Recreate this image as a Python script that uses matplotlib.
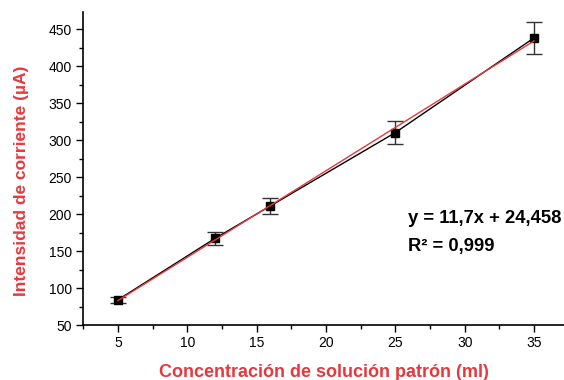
import matplotlib
matplotlib.use("Agg")
import matplotlib.pyplot as plt
import numpy as np
from matplotlib.ticker import MultipleLocator

plt.rcParams['font.family'] = ['Liberation Sans', 'DejaVu Sans']

# Calibration data
concentration = [5, 12, 16, 25, 35]
current = [84, 167, 211, 310, 438]
current_err = [4, 9, 10.5, 15.5, 22]

# Linear fit reported on the chart
slope = 11.7
intercept = 24.458
r_squared = 0.999

red = '#e8383d'

fig = plt.figure(figsize=(5.64, 3.8), dpi=100)
ax = fig.add_axes([0.147, 0.1447, 0.853, 0.8237])

ax.errorbar(concentration, current, yerr=current_err, fmt='s', color='black',
            ms=5.5, ecolor='#333333', elinewidth=1, capsize=5.5, capthick=1, zorder=3)
ax.plot(concentration, current, color='black', lw=1, zorder=2)

xf = np.array([concentration[0], concentration[-1]])
ax.plot(xf, slope * xf + intercept, color=red, lw=1, zorder=4)

ax.set_xlim(2.48, 37.16)
ax.set_ylim(50, 473)
ax.xaxis.set_major_locator(MultipleLocator(5))
ax.xaxis.set_minor_locator(MultipleLocator(2.5))
ax.yaxis.set_major_locator(MultipleLocator(50))
ax.yaxis.set_minor_locator(MultipleLocator(25))

for s in ['top', 'right']:
    ax.spines[s].set_visible(False)
for s in ['left', 'bottom']:
    ax.spines[s].set_linewidth(1.2)

ax.tick_params(which='major', direction='out', length=5, width=1, labelsize=10, pad=3)
ax.tick_params(which='minor', direction='out', length=3, width=1)

ax.set_xlabel('Concentración de solución patrón (ml)', color=red,
              fontsize=13, fontweight='bold', labelpad=10)
ax.set_ylabel('Intensidad de corriente (µA)', color=red,
              fontsize=12.5, fontweight='bold')
ax.yaxis.set_label_coords(-0.112, 0.46)

eq = f"y = {slope:.1f}x + {intercept:.3f}".replace('.', ',')
r2 = f"R² = {r_squared:.3f}".replace('.', ',')
ax.text(25.95, 194.5, eq, fontsize=13.2, fontweight='bold',
        va='center', ha='left', clip_on=False)
ax.text(25.95, 155.5, r2, fontsize=13.2, fontweight='bold',
        va='center', ha='left', clip_on=False)

fig.savefig('out.png', dpi=100)
